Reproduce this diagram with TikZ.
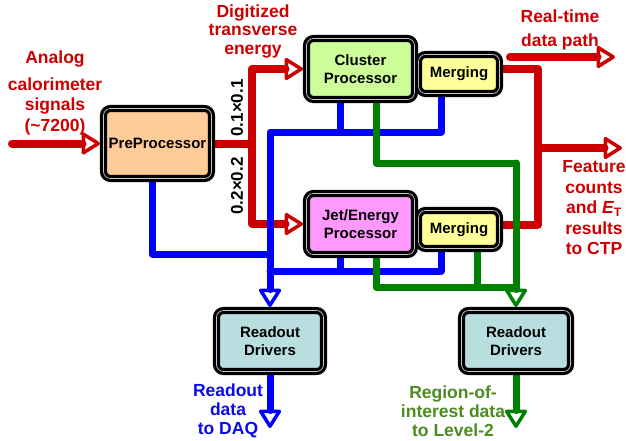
\documentclass[tikz,border=0pt]{standalone}
\usepackage{fontspec}
\setmainfont{Liberation Sans}
\usetikzlibrary{arrows.meta}
\definecolor{cred}{HTML}{CC0000}
\definecolor{cblue}{HTML}{0000FF}
\definecolor{cgreen}{HTML}{008000}
\definecolor{tblue}{HTML}{0A0AEE}
\definecolor{tgreen}{HTML}{4C8C1E}
\definecolor{fpre}{HTML}{FFCC99}
\definecolor{fclus}{HTML}{CCFF99}
\definecolor{fmerge}{HTML}{FFFF99}
\definecolor{fjet}{HTML}{FF99FF}
\definecolor{frod}{HTML}{B9DEE0}
\pgfdeclarelayer{lred}
\pgfdeclarelayer{lblue}
\pgfdeclarelayer{lgreen}
\pgfsetlayers{lred,lblue,lgreen,main}
\tikzset{
  box/.style={draw=black, line width=3.2pt, double=gray!45, double distance=0.7pt,
    rounded corners=7pt, inner sep=0pt, outer sep=3.5pt,
    font=\fontsize{15}{18}\selectfont\bfseries, align=center},
  rl/.style={draw=cred, line width=8pt, line join=round, line cap=round},
  bl/.style={draw=cblue, line width=7pt, line join=round, line cap=round},
  gl/.style={draw=cgreen, line width=7pt, line join=round, line cap=round},
  arr/.style={-{Triangle[open,round,length=20pt,width=24pt,line width=3.5pt]}},
  lab/.style={font=\fontsize{17.5}{20.5}\selectfont\bfseries, align=center, inner sep=0pt},
  rot/.style={font=\fontsize{17}{20}\selectfont\bfseries, rotate=90, inner sep=0pt},
}
\begin{document}
\begin{tikzpicture}[x=1pt, y=-1pt]
\path[use as bounding box] (0,0) rectangle (626,440);

% boxes
\node[box, fill=fpre, minimum width=108pt, minimum height=70pt] (pre) at (157.5,143.5) {PreProcessor};
\node[box, fill=fmerge, minimum width=81pt, minimum height=39pt] (m1) at (459,74) {Merging};
\node[box, fill=fclus, minimum width=108pt, minimum height=61pt] (clus) at (360.5,69) {Cluster\\Processor};
\node[box, fill=fmerge, minimum width=81pt, minimum height=38pt] (m2) at (459,229.5) {Merging};
\node[box, fill=fjet, minimum width=108pt, minimum height=61pt] (jet) at (360.5,224) {Jet/Energy\\Processor};
\node[box, fill=frod, minimum width=107pt, minimum height=61pt] (rod1) at (270,341) {Readout\\Drivers};
\node[box, fill=frod, minimum width=109pt, minimum height=61pt] (rod2) at (516,341) {Readout\\Drivers};

% coordinates
\coordinate (in) at (12,143.5);
\coordinate (split) at (252,143.5);
\coordinate (cj) at (538,148);
\coordinate (ctp) at (622,148);
\coordinate (rt1) at (510,57);
\coordinate (rt2) at (615,57);
\coordinate (b0) at (270,132);
\coordinate (b1) at (340,132);
\coordinate (b2) at (441,132);
\coordinate (b3) at (152,254);
\coordinate (b4) at (340,271);
\coordinate (b5) at (441,271);
\coordinate (g1) at (376,163);
\coordinate (g2) at (516,163);
\coordinate (g3) at (376,287);
\coordinate (g4) at (477,287);
\coordinate (o1) at (270,428);
\coordinate (o2) at (516,428);

% red
\begin{pgfonlayer}{lred}
\draw[rl, arr] (in) -- (pre.west);
\draw[rl] (pre.center) -- (split);
\draw[rl, arr] (split) |- (clus.west);
\draw[rl, arr] (split) |- (jet.west);
\draw[rl] ([yshift=5pt]m1.center) -| (cj) |- ([yshift=5pt]m2.center);
\draw[rl, arr] (cj) -- (ctp);
\draw[rl, arr] (rt1) -- (rt2);
\end{pgfonlayer}

% blue
\begin{pgfonlayer}{lblue}
\draw[bl] (b1 |- clus.center) -- (b1);
\draw[bl, arr] (b2 |- m1.center) -- (b2) -- (b0) -- (rod1.north);
\draw[bl] (b3 |- pre.center) -- (b3) -- (b3 -| b0);
\draw[bl] (b4 |- jet.center) -- (b4);
\draw[bl] (b5 |- m2.center) -- (b5) -- (b5 -| b0);
\draw[bl, arr] (rod1.center) -- (o1);
\end{pgfonlayer}

% green
\begin{pgfonlayer}{lgreen}
\draw[gl] (g1 |- clus.center) -- (g1) -- (g2);
\draw[gl, arr] (g2) -- (rod2.north);
\draw[gl] (g3 |- jet.center) -- (g3) -- (g3 -| g2);
\draw[gl] (g4 |- m2.center) -- (g4);
\draw[gl, arr] (rod2.center) -- (o2);
\end{pgfonlayer}

% labels
\node[lab, text=cred] (tanalog) at (55,93) {Analog\\[6pt]calorimeter\\signals\\(\textasciitilde7200)};
\node[lab, text=cred, font=\fontsize{17.5}{18.5}\selectfont\bfseries] (tdig) at (253,31.5) {Digitized\\transverse\\energy};
\node[lab, text=cred, font=\fontsize{17.5}{24}\selectfont\bfseries] (trt) at (560,30) {Real-time\\data path};
\node[lab, text=cred] (tctp) at (594,208) {Feature\\counts\\and {\itshape E}\textsubscript{T}\\results\\to CTP};
\node[lab, text=tblue, font=\fontsize{17.5}{19}\selectfont\bfseries] (tdaq) at (228,411) {Readout\\data\\to DAQ};
\node[lab, text=tgreen, font=\fontsize{17.5}{19}\selectfont\bfseries] (troi) at (453,411) {Region-of-\\interest data\\to Level-2};
\node[rot] (r1) at (237,108) {0.1×0.1};
\node[rot] (r2) at (237,186) {0.2×0.2};
\end{tikzpicture}
\end{document}
